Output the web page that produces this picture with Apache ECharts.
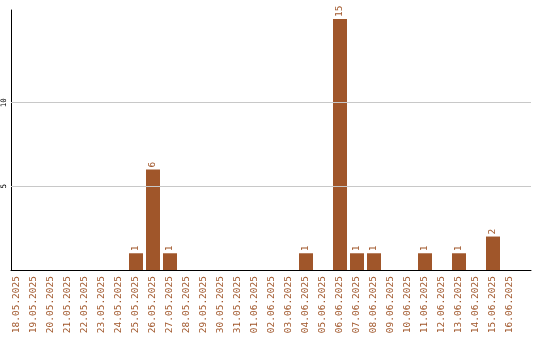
<!DOCTYPE html>
<html><head><meta charset="utf-8">
<script src="https://cdn.jsdelivr.net/npm/echarts@6/dist/echarts.min.js"></script>
<style>html,body{margin:0;padding:0;background:#fff}#c{width:540px;height:340px}</style>
</head><body><div id="c"></div>
<script>
const categories = ["18.05.2025","19.05.2025","20.05.2025","21.05.2025","22.05.2025","23.05.2025","24.05.2025","25.05.2025","26.05.2025","27.05.2025","28.05.2025","29.05.2025","30.05.2025","31.05.2025","01.06.2025","02.06.2025","03.06.2025","04.06.2025","05.06.2025","06.06.2025","07.06.2025","08.06.2025","09.06.2025","10.06.2025","11.06.2025","12.06.2025","13.06.2025","14.06.2025","15.06.2025","16.06.2025"];
const values = [0,0,0,0,0,0,0,1,6,1,0,0,0,0,0,0,0,1,0,15,1,1,0,0,1,0,1,0,2,0];
const yTicks = [5, 10];
const yMax = 15.54;

const color = '#a0562a';
const font = 'DejaVu Sans Mono';
const chart = echarts.init(document.getElementById('c'));
chart.setOption({
  animation: false,
  grid: [
    {left: 8.5, width: 510, top: 10, bottom: 70},
    {left: 10, right: 9, top: 10, bottom: 70}
  ],
  xAxis: [
    {type: 'category', gridIndex: 0, data: categories,
     axisLine: {show: false}, axisTick: {show: false},
     axisLabel: {rotate: 90, interval: 0, margin: 6, color: color, fontFamily: font, fontSize: 9.5}},
    {type: 'value', gridIndex: 1, min: 0, max: 1,
     axisLine: {show: true, lineStyle: {color: '#000', width: 1}},
     axisTick: {show: false}, axisLabel: {show: false}, splitLine: {show: false}}
  ],
  yAxis: [
    {type: 'value', gridIndex: 0, min: 0, max: yMax, show: false},
    {type: 'value', gridIndex: 1, min: 0, max: yMax, interval: 5,
     axisLine: {show: true, lineStyle: {color: '#000', width: 1}},
     axisTick: {show: false},
     splitLine: {show: false},
     axisLabel: {rotate: 90, margin: 3, color: '#000', fontFamily: font, fontSize: 7.5,
       formatter: v => yTicks.includes(v) ? String(v) : ''}}
  ],
  series: [{
    type: 'bar', xAxisIndex: 0, yAxisIndex: 0, data: values,
    barWidth: 14, itemStyle: {color: color}, z: 3,
    label: {show: true, position: 'top', rotate: 90, align: 'left', verticalAlign: 'middle',
      distance: 2, color: color, fontFamily: font, fontSize: 9.5,
      formatter: p => p.value ? String(p.value) : ''}
  }, {
    type: 'line', xAxisIndex: 1, yAxisIndex: 1, data: [], silent: true, z: 1,
    markLine: {silent: true, symbol: 'none', label: {show: false},
      lineStyle: {color: '#c8c8c8', width: 1, type: 'solid'},
      data: yTicks.map(t => ({yAxis: t}))}
  }]
});
</script></body></html>
